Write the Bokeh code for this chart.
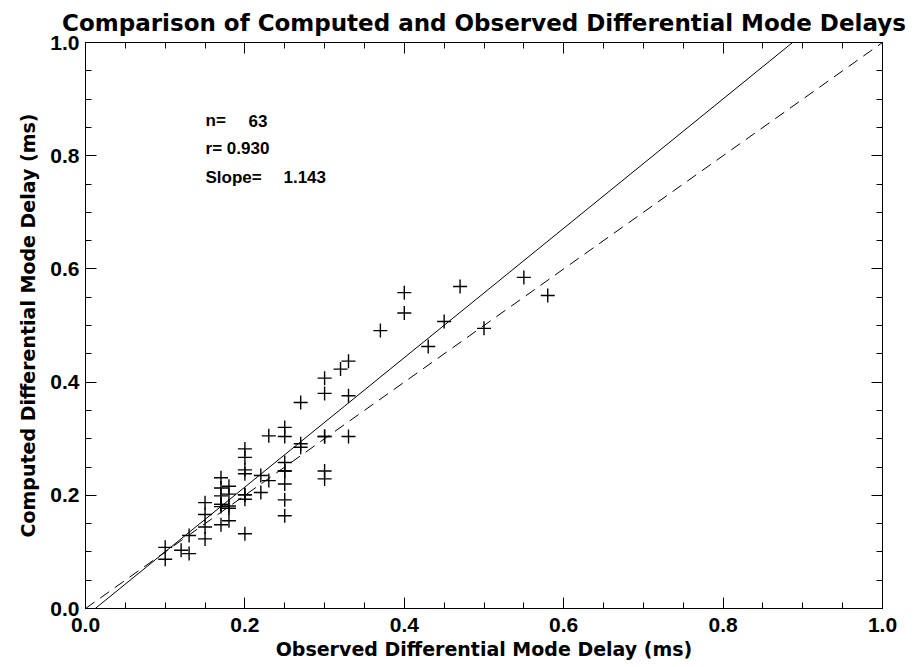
from bokeh.plotting import figure
from bokeh.models import (Range1d, LinearAxis, SingleIntervalTicker,
                          PrintfTickFormatter, Slope, Label, ColumnDataSource,
                          CustomLabelingPolicy)
from bokeh.embed import file_html
from bokeh.resources import INLINE

# ---- data ----
observed = [0.10, 0.10, 0.12, 0.13, 0.13,
            0.15, 0.15, 0.15, 0.15,
            0.17, 0.17, 0.17, 0.17, 0.17, 0.17, 0.17,
            0.18, 0.18, 0.18, 0.18, 0.18,
            0.20, 0.20, 0.20, 0.20, 0.20, 0.20, 0.20, 0.20,
            0.22, 0.22, 0.23, 0.23,
            0.25, 0.25, 0.25, 0.25, 0.25, 0.25, 0.25, 0.25,
            0.27, 0.27, 0.27,
            0.30, 0.30, 0.30, 0.30, 0.30, 0.30,
            0.32, 0.33, 0.33, 0.33,
            0.37, 0.40, 0.40, 0.43, 0.45, 0.47, 0.50, 0.55, 0.58]
computed = [0.108, 0.087, 0.103, 0.097, 0.129,
            0.187, 0.166, 0.144, 0.123,
            0.231, 0.213, 0.199, 0.184, 0.184, 0.180, 0.148,
            0.216, 0.202, 0.181, 0.177, 0.155,
            0.282, 0.267, 0.245, 0.238, 0.201, 0.201, 0.193, 0.132,
            0.235, 0.205, 0.226, 0.305,
            0.320, 0.304, 0.258, 0.243, 0.243, 0.220, 0.192, 0.164,
            0.364, 0.291, 0.285,
            0.407, 0.380, 0.304, 0.304, 0.243, 0.229,
            0.423, 0.437, 0.376, 0.304,
            0.491, 0.558, 0.522, 0.463, 0.507, 0.569, 0.495, 0.585, 0.553]

fit_slope = 1.143
fit_intercept = -0.014
# statistics text: (label, value); r row is one string in the reference
stat_n = ("n=", "63")
stat_r = "r= 0.930"
stat_slope = ("Slope=", "1.143")

LABEL_FONT = "Liberation Sans"
WIDE_FONT = "DejaVu Sans"

p = figure(width=921, height=667,
           x_range=Range1d(0, 1), y_range=Range1d(0, 1),
           output_backend="svg", toolbar_location=None,
           title="Comparison of Computed and Observed Differential Mode Delays")
p.min_border_left = 85
p.min_border_right = 39
p.min_border_top = 42
p.min_border_bottom = 59
p.background_fill_color = "white"
p.border_fill_color = "white"
p.outline_line_color = "black"
p.outline_line_width = 1
p.xgrid.visible = False
p.ygrid.visible = False

p.title.text_font = WIDE_FONT
p.title.text_font_size = "23px"
p.title.text_font_style = "bold"
p.title.align = "center"
p.title.standoff = 5
p.title.text_color = "black"


def style_axis(ax, labels=True):
    ax.ticker = SingleIntervalTicker(interval=0.2, num_minor_ticks=4)
    ax.formatter = PrintfTickFormatter(format="%.1f")
    ax.axis_line_color = "black"
    ax.major_tick_line_color = "black"
    ax.minor_tick_line_color = "black"
    ax.major_tick_in = 11
    ax.major_tick_out = 0
    ax.minor_tick_in = 6
    ax.minor_tick_out = 0
    if labels:
        ax.major_label_text_font = LABEL_FONT
        ax.major_label_text_font_size = "21px"
        ax.major_label_text_font_style = "bold"
        ax.major_label_text_color = "black"
        ax.major_label_standoff = 6
        ax.axis_label_text_font = WIDE_FONT
        ax.axis_label_text_font_size = "19px"
        ax.axis_label_text_font_style = "bold"
        ax.axis_label_text_color = "black"
        ax.axis_label_standoff = 3
    else:
        ax.major_label_policy = CustomLabelingPolicy(code="return []")
        ax.major_label_text_font_size = "1px"
        ax.major_label_standoff = 0


style_axis(p.xaxis[0])
style_axis(p.yaxis[0])
p.xaxis[0].axis_label = "Observed Differential Mode Delay (ms)"
p.xaxis[0].major_label_standoff = 9
p.yaxis[0].axis_label = "Computed Differential Mode Delay (ms)"
p.yaxis[0].axis_label_standoff = 8

top_ax = LinearAxis()
right_ax = LinearAxis()
style_axis(top_ax, labels=False)
style_axis(right_ax, labels=False)
p.add_layout(top_ax, "above")
p.add_layout(right_ax, "right")

# reference lines: 1:1 line (dashed) and fitted line (solid)
p.add_layout(Slope(gradient=1.0, y_intercept=0.0, line_color="black",
                   line_width=1, line_dash="11 7"))
p.add_layout(Slope(gradient=fit_slope, y_intercept=fit_intercept,
                   line_color="black", line_width=1))

src = ColumnDataSource(dict(x=observed, y=computed))
p.scatter("x", "y", source=src, marker="cross", size=14,
          line_color="black", line_width=1.4)


def stat_label(txt, xx, yy):
    p.add_layout(Label(x=xx, y=yy, text=txt, text_font=LABEL_FONT,
                       text_font_size="17px", text_font_style="bold",
                       text_color="black", text_baseline="alphabetic"))


stat_label(stat_n[0], 0.1506, 0.862)
stat_label(stat_n[1], 0.2045, 0.862)
stat_label(stat_r, 0.1506, 0.812)
stat_label(stat_slope[0], 0.1506, 0.762)
stat_label(stat_slope[1], 0.2484, 0.762)

open("out.html", "w").write(file_html(p, INLINE))
